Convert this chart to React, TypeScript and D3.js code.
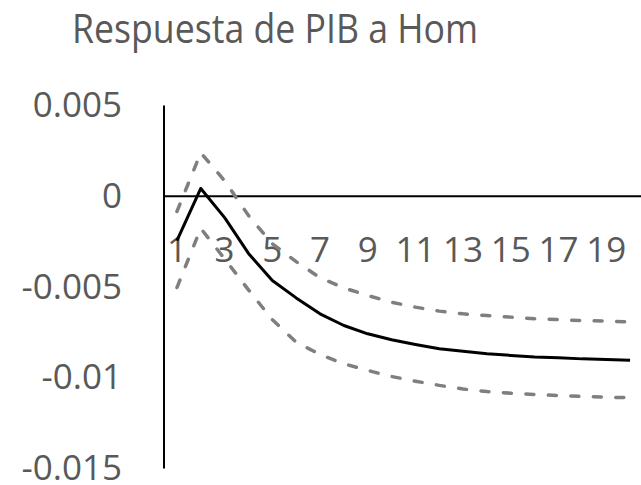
import React from "react";
import * as d3 from "d3";

const periods = d3.range(1, 21);
const response = [-0.00244, 0.00043, -0.00118, -0.00315, -0.00464, -0.0056, -0.00648, -0.00712, -0.00758, -0.00791, -0.00817, -0.0084, -0.00854, -0.00868, -0.00877, -0.00885, -0.0089, -0.00896, -0.00899, -0.00903];
const upper = [-0.00084, 0.0024, 0.00085, -0.00106, -0.00262, -0.0036, -0.00449, -0.00505, -0.00547, -0.00584, -0.00611, -0.00633, -0.00648, -0.00657, -0.00666, -0.00675, -0.0068, -0.00685, -0.00688, -0.00692];
const lower = [-0.00503, -0.00177, -0.00345, -0.00516, -0.0068, -0.00804, -0.00872, -0.00923, -0.0096, -0.00993, -0.01019, -0.01042, -0.01062, -0.01076, -0.01085, -0.01092, -0.01098, -0.01103, -0.01107, -0.0111];
const yTicks = [0.005, 0, -0.005, -0.01, -0.015];
const yTickLabels = ["0.005", "0", "-0.005", "-0.01", "-0.015"];
const xTickLabels = periods.filter((p) => p % 2 === 1);
const title = "Respuesta de PIB a Hom";

const W = 641;
const H = 485;
const FONT = "'Open Sans', sans-serif";
const TEXT = "#595959";

export default function App() {
  const x = d3.scaleBand<number>().domain(periods).range([165, 642]);
  const y = d3.scaleLinear().domain([-0.015, 0.005]).range([468.5, 105.5]);
  const cx = (p: number) => (x(p) as number) + x.bandwidth() / 2;
  const line = d3
    .line<number>()
    .x((_, i) => cx(periods[i]))
    .y((d) => y(d));

  return (
    <svg width={W} height={H} style={{ position: "absolute", left: 0, top: 0, background: "#fff" }}>
      <rect width={W} height={H} fill="#fff" />
      <text
        x={275}
        y={43}
        textAnchor="middle"
        fontFamily={FONT}
        fontSize={40}
        fill={TEXT}
        textLength={406}
        lengthAdjust="spacingAndGlyphs"
      >
        {title}
      </text>
      {yTicks.map((t, i) => (
        <text key={t} x={122} y={y(t) + 11.5} textAnchor="end" fontFamily={FONT} fontSize={35} fill={TEXT}>
          {yTickLabels[i]}
        </text>
      ))}
      {xTickLabels.map((p) => (
        <text key={p} x={cx(p)} y={262} textAnchor="middle" fontFamily={FONT} fontSize={35} fill={TEXT}>
          {p}
        </text>
      ))}
      <line x1={164} x2={164} y1={y(0.005)} y2={y(-0.015)} stroke="#000" strokeWidth={2} />
      <line x1={164} x2={641} y1={y(0)} y2={y(0)} stroke="#000" strokeWidth={2} />
      <path d={line(upper) || ""} fill="none" stroke="#7f7f7f" strokeWidth={3.5} strokeDasharray="8 14.5" strokeLinecap="round" />
      <path d={line(lower) || ""} fill="none" stroke="#7f7f7f" strokeWidth={3.5} strokeDasharray="8 14.5" strokeLinecap="round" />
      <path d={line(response) || ""} fill="none" stroke="#000" strokeWidth={3} strokeLinejoin="round" />
    </svg>
  );
}
